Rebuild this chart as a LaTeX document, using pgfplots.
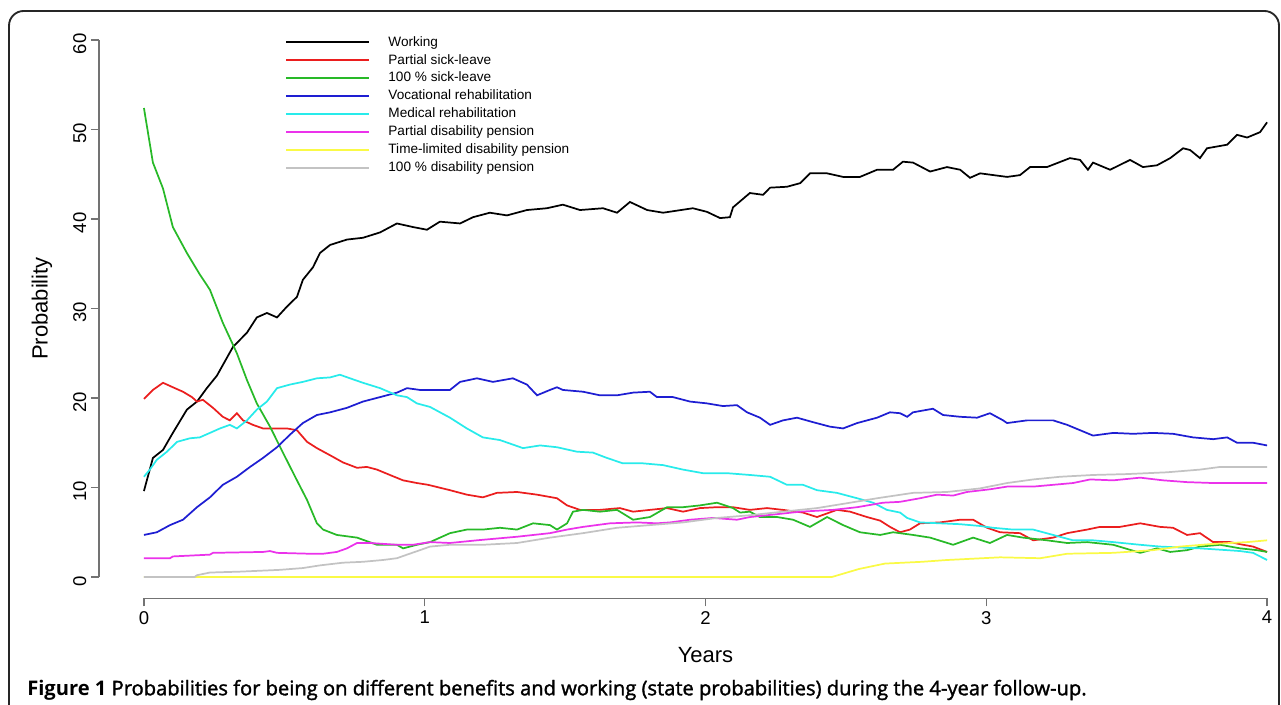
\documentclass[border=0pt]{standalone}
\usepackage{fontspec}
\setmainfont{Liberation Sans}
\newfontfamily\capfont{Open Sans}
\newfontfamily\capsemi{Open Sans}[FakeBold=1.6]
\usepackage{pgfplots}
\pgfplotsset{compat=1.18}

\definecolor{cRed}{RGB}{235,30,30}
\definecolor{cGreen}{RGB}{40,185,40}
\definecolor{cBlue}{RGB}{30,30,210}
\definecolor{cCyan}{RGB}{40,235,235}
\definecolor{cMag}{RGB}{235,50,235}
\definecolor{cYel}{RGB}{250,250,70}
\definecolor{cGray}{RGB}{195,195,195}

\begin{document}
\begin{tikzpicture}[x=0.75pt,y=0.75pt]
\useasboundingbox (0,0) rectangle (1281,705);
\draw[black!85, line width=1.4pt, rounded corners=11pt] (9,-20) -- (9,694) -- (1279,694) -- (1279,-20);
\begin{axis}[
  at={(74.25pt,79.875pt)}, anchor=south west, scale only axis,
  width=909.75pt, height=435pt,
  xmin=-0.16, xmax=4.16, ymin=-2.4, ymax=62.4,
  axis x line*=bottom, axis y line*=left,
  axis line style={draw=none},
  clip=false,
  xtick={0,1,2,3,4}, ytick={0,10,...,60},
  tick align=outside, major tick length=6pt,
  tick style={black!55, line width=0.9pt},
  ticklabel style={font=\fontsize{13.9}{16}\selectfont},
  /pgf/number format/assume math mode=true,
  yticklabel style={rotate=90, anchor=south, xshift=-3pt},
  xticklabel style={anchor=north},
  xlabel={Years},
  xlabel style={at={(axis description cs:0.5,-0.0974)}, anchor=center, font=\fontsize{16.5}{19}\selectfont},
  ylabel={Probability},
  ylabel style={at={(axis description cs:-0.047,0.5)}, anchor=center, font=\fontsize{16.5}{19}\selectfont},
  every axis plot/.append style={line width=1.3pt},
  legend style={draw=none, fill=none, at={(0.1533,0.9746)}, anchor=north west,
    font=\fontsize{10.2}{12}\selectfont, inner sep=0pt, row sep=0.6pt},
  legend cell align=left,
  legend image code/.code={\draw[#1, line width=1.5pt] (0pt,0pt) -- (62pt,0pt); \path (74pt,0pt);},
]
\draw[black!55, line width=0.9pt] (axis cs:0,-2.4) -- (axis cs:4,-2.4);
\draw[black!55, line width=0.9pt] (axis cs:-0.16,0) -- (axis cs:-0.16,60);

% Working
\addplot[color=black] table {
t v
0 9.6
0.032 13.3
0.068 14.2
0.103 16.1
0.153 18.7
0.189 19.6
0.224 21.1
0.260 22.5
0.317 25.7
0.367 27.3
0.402 29.0
0.438 29.5
0.474 29.0
0.509 30.2
0.545 31.3
0.566 33.2
0.602 34.6
0.627 36.2
0.663 37.1
0.723 37.7
0.780 37.9
0.841 38.5
0.901 39.5
0.958 39.1
1.008 38.8
1.054 39.7
1.126 39.5
1.172 40.2
1.232 40.7
1.293 40.4
1.364 41.0
1.435 41.2
1.492 41.6
1.553 41.0
1.635 41.2
1.685 40.7
1.731 41.9
1.792 41.0
1.849 40.7
1.955 41.2
2.005 40.8
2.052 40.1
2.087 40.2
2.098 41.3
2.158 42.9
2.205 42.7
2.230 43.5
2.290 43.6
2.337 44.0
2.372 45.1
2.433 45.1
2.490 44.7
2.550 44.7
2.611 45.5
2.668 45.5
2.703 46.4
2.739 46.3
2.800 45.3
2.860 45.8
2.907 45.5
2.942 44.6
2.978 45.1
3.074 44.7
3.120 44.9
3.156 45.8
3.216 45.8
3.298 46.8
3.334 46.6
3.362 45.5
3.380 46.3
3.441 45.5
3.512 46.6
3.558 45.8
3.608 46.0
3.655 46.8
3.701 47.9
3.726 47.7
3.761 46.8
3.786 47.9
3.858 48.3
3.893 49.4
3.929 49.1
3.975 49.7
4.000 50.8
};
% Partial sick-leave
\addplot[color=cRed] table {
t v
0 19.9
0.032 20.9
0.068 21.7
0.103 21.2
0.139 20.7
0.171 20.1
0.189 19.6
0.210 19.8
0.246 18.9
0.281 17.9
0.306 17.5
0.331 18.3
0.353 17.5
0.388 17.0
0.424 16.6
0.459 16.6
0.509 16.6
0.545 16.4
0.581 15.1
0.616 14.4
0.663 13.6
0.709 12.8
0.759 12.2
0.794 12.3
0.830 12.0
0.876 11.4
0.923 10.8
0.972 10.5
1.012 10.3
1.090 9.7
1.150 9.2
1.207 8.9
1.257 9.4
1.329 9.5
1.400 9.2
1.471 8.8
1.507 8.0
1.553 7.5
1.624 7.5
1.695 7.7
1.742 7.3
1.802 7.5
1.863 7.7
1.920 7.3
1.980 7.7
2.041 7.8
2.098 7.8
2.158 7.5
2.219 7.7
2.276 7.5
2.347 7.2
2.397 6.7
2.468 7.5
2.515 7.3
2.575 6.7
2.622 6.3
2.657 5.6
2.693 5.0
2.728 5.3
2.764 6.0
2.835 6.1
2.907 6.4
2.953 6.4
3.003 5.5
3.049 5.0
3.120 4.9
3.167 4.1
3.238 4.4
3.288 4.9
3.359 5.3
3.405 5.6
3.476 5.6
3.548 6.0
3.619 5.6
3.665 5.5
3.715 4.7
3.761 4.9
3.808 3.9
3.868 3.9
3.915 3.6
3.950 3.4
4.000 2.8
};
% 100 % sick-leave
\addplot[color=cGreen] table {
t v
0 52.4
0.032 46.3
0.068 43.4
0.103 39.1
0.153 36.2
0.199 33.8
0.235 32.1
0.281 28.4
0.331 25.0
0.367 22.0
0.402 19.4
0.449 16.8
0.495 13.9
0.545 10.8
0.581 8.6
0.616 6.0
0.638 5.3
0.687 4.7
0.759 4.4
0.830 3.6
0.901 3.6
0.923 3.2
0.972 3.6
1.019 3.9
1.090 4.9
1.150 5.3
1.207 5.3
1.268 5.5
1.329 5.3
1.386 6.0
1.446 5.8
1.471 5.3
1.507 6.0
1.528 7.3
1.564 7.5
1.624 7.3
1.685 7.5
1.742 6.4
1.802 6.7
1.863 7.8
1.920 7.8
1.980 8.0
2.041 8.3
2.098 7.7
2.123 7.2
2.158 7.3
2.194 6.7
2.255 6.7
2.312 6.4
2.372 5.6
2.433 6.7
2.490 5.8
2.550 5.0
2.622 4.7
2.668 5.0
2.739 4.7
2.800 4.4
2.882 3.6
2.953 4.4
3.013 3.8
3.074 4.7
3.131 4.4
3.216 4.1
3.288 3.8
3.359 3.9
3.452 3.6
3.548 2.7
3.608 3.2
3.655 2.8
3.715 3.0
3.761 3.4
3.833 3.6
3.904 3.2
3.964 3.0
4.000 2.8
};
% Vocational rehabilitation
\addplot[color=cBlue] table {
t v
0 4.7
0.046 5.0
0.093 5.8
0.139 6.4
0.189 7.8
0.235 8.9
0.281 10.3
0.331 11.2
0.378 12.3
0.424 13.3
0.474 14.5
0.520 15.9
0.566 17.2
0.616 18.1
0.663 18.4
0.723 18.9
0.780 19.6
0.841 20.1
0.901 20.6
0.937 21.1
0.983 20.9
1.090 20.9
1.126 21.8
1.186 22.2
1.243 21.8
1.314 22.2
1.364 21.5
1.400 20.3
1.446 20.9
1.471 21.2
1.492 20.9
1.564 20.7
1.624 20.3
1.685 20.3
1.742 20.6
1.802 20.7
1.827 20.1
1.884 20.1
1.945 19.6
2.005 19.4
2.062 19.1
2.112 19.2
2.148 18.4
2.194 17.8
2.230 17.0
2.276 17.5
2.326 17.8
2.383 17.3
2.443 16.8
2.490 16.6
2.540 17.2
2.611 17.8
2.657 18.4
2.693 18.3
2.718 17.9
2.739 18.4
2.810 18.8
2.846 18.1
2.907 17.9
2.967 17.8
3.013 18.3
3.060 17.5
3.074 17.2
3.145 17.5
3.238 17.5
3.288 17.0
3.334 16.4
3.380 15.8
3.452 16.1
3.523 16.0
3.594 16.1
3.665 16.0
3.736 15.6
3.808 15.4
3.858 15.6
3.893 15.0
3.950 15.0
4.000 14.7
};
% Medical rehabilitation
\addplot[color=cCyan] table {
t v
0 11.2
0.021 12.0
0.046 13.1
0.082 14.0
0.118 15.1
0.164 15.5
0.199 15.6
0.235 16.1
0.271 16.6
0.306 17.0
0.331 16.6
0.367 17.5
0.402 18.7
0.438 19.6
0.474 21.1
0.520 21.5
0.566 21.8
0.616 22.2
0.663 22.3
0.698 22.6
0.734 22.2
0.780 21.7
0.841 21.1
0.901 20.3
0.937 20.1
0.972 19.4
1.019 19.0
1.090 17.8
1.150 16.6
1.207 15.6
1.268 15.3
1.350 14.4
1.411 14.7
1.471 14.5
1.542 14.0
1.599 13.9
1.649 13.3
1.706 12.7
1.777 12.7
1.849 12.5
1.920 12.0
1.991 11.6
2.077 11.6
2.158 11.4
2.230 11.2
2.290 10.3
2.347 10.3
2.397 9.7
2.468 9.4
2.540 8.8
2.597 8.3
2.646 7.5
2.693 7.2
2.718 6.6
2.764 6.1
2.835 6.0
2.907 5.9
2.978 5.7
3.024 5.5
3.095 5.3
3.167 5.3
3.238 4.7
3.309 4.1
3.380 4.1
3.452 3.9
3.548 3.6
3.619 3.4
3.690 3.3
3.761 3.2
3.858 3.0
3.904 2.9
3.950 2.7
4.000 1.9
};
% Partial disability pension
\addplot[color=cMag] table {
t v
0 2.1
0.093 2.1
0.103 2.3
0.235 2.5
0.246 2.7
0.424 2.8
0.449 2.9
0.474 2.7
0.591 2.6
0.638 2.6
0.687 2.8
0.723 3.2
0.759 3.8
0.805 3.8
0.901 3.6
0.958 3.6
1.019 3.9
1.090 3.8
1.186 4.1
1.329 4.5
1.446 4.9
1.507 5.3
1.564 5.6
1.660 6.0
1.756 6.1
1.827 6.0
1.874 6.1
1.945 6.4
2.027 6.6
2.112 6.4
2.158 6.7
2.219 6.9
2.337 7.3
2.454 7.5
2.540 7.8
2.632 8.3
2.693 8.4
2.764 8.8
2.825 9.2
2.882 9.1
2.931 9.5
3.013 9.8
3.074 10.1
3.167 10.1
3.238 10.3
3.309 10.5
3.370 10.9
3.452 10.8
3.548 11.1
3.630 10.8
3.715 10.6
3.808 10.5
4.000 10.5
};
% Time-limited disability pension
\addplot[color=cYel] table {
t v
0 0
2.450 0
2.547 0.9
2.639 1.5
2.771 1.7
2.860 1.9
3.049 2.2
3.192 2.1
3.288 2.6
3.452 2.7
3.594 3.0
3.690 3.4
3.808 3.7
3.929 3.9
4.000 4.1
};
% 100 % disability pension
\addplot[color=cGray] table {
t v
0 0
0.180 0
0.189 0.2
0.235 0.5
0.342 0.6
0.484 0.8
0.566 1.0
0.627 1.3
0.709 1.6
0.780 1.7
0.851 1.9
0.901 2.1
0.937 2.5
0.983 3.0
1.019 3.4
1.090 3.6
1.207 3.6
1.329 3.8
1.446 4.4
1.564 4.9
1.685 5.5
1.802 5.8
1.920 6.1
2.041 6.6
2.158 6.9
2.276 7.3
2.397 7.7
2.515 8.3
2.611 8.8
2.739 9.4
2.860 9.5
2.978 9.9
3.074 10.5
3.167 10.9
3.263 11.2
3.380 11.4
3.501 11.5
3.644 11.7
3.761 12.0
3.833 12.3
4.000 12.3
};
\legend{Working, Partial sick-leave, 100 \% sick-leave, Vocational rehabilitation, Medical rehabilitation, Partial disability pension, Time-limited disability pension, 100 \% disability pension}
\end{axis}
\node[anchor=west, inner sep=0pt] at (27,15) {\capfont\fontsize{15.1}{18}\selectfont\textbf{Figure 1} {\capsemi Probabilities for being on different benefits and working (state probabilities) during the 4-year follow-up.}};
\end{tikzpicture}
\end{document}
